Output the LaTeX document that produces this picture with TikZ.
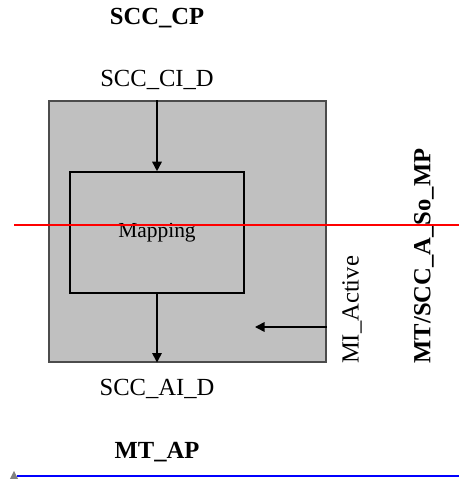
\documentclass[tikz,border=0pt]{standalone}
\usepackage{fontspec}
\setmainfont{Liberation Serif}
\usepackage{tikz}
\usetikzlibrary{arrows.meta}
\definecolor{boxgray}{HTML}{C0C0C0}

\begin{document}
\begin{tikzpicture}[
  outerbox/.style={draw=black!70, line width=0.6pt, fill=boxgray,
              minimum width=5.54cm, minimum height=5.22cm, inner sep=0pt},
  mapbox/.style={draw=black, line width=0.9pt, fill=boxgray,
              minimum width=3.48cm, minimum height=2.42cm, inner sep=0pt,
              font=\fontsize{12.2}{14}\selectfont},
  lbl/.style={inner sep=0pt, font=\fontsize{14}{16}\selectfont},
  boldlbl/.style={inner sep=0pt, font=\fontsize{14}{16}\selectfont\bfseries},
  arr/.style={-{Triangle[length=0.19cm, width=0.19cm]}, line width=0.9pt}
]
\useasboundingbox (0,0) rectangle (9.18,9.58);

\node[outerbox] (nscc) at (3.75,4.95) {};
\node[mapbox]   (nmap) at (3.14,4.93) {Mapping};

\node[boldlbl] (ncp)  at (3.14,9.22) {SCC\_CP};
\node[lbl]     (ncid) at (3.14,7.98) {SCC\_CI\_D};
\node[lbl]     (naid) at (3.14,1.80) {SCC\_AI\_D};
\node[boldlbl] (nap)  at (3.14,0.54) {MT\_AP};
\node[lbl, rotate=90] (nmia) at (7.04,3.38) {MI\_Active};
\node[boldlbl, rotate=90] (nmp) at (8.48,4.46) {MT/SCC\_A\_So\_MP};

\coordinate (nmiatip) at (5.10,3.04);

\draw[arr] (nmap.north |- nscc.north) -- (nmap.north);
\draw[arr] (nmap.south) -- (nmap.south |- nscc.south);
\draw[arr] (nscc.east |- nmiatip) -- (nmiatip);

% reference lines
\draw[red, line width=1.1pt] (0.28,5.08) -- (9.18,5.08);
\draw[blue, line width=1.1pt] (0.34,0.06) -- (9.18,0.06);
\fill[black!50] (0.20,0) -- (0.28,0.16) -- (0.36,0) -- cycle;
\end{tikzpicture}
\end{document}
